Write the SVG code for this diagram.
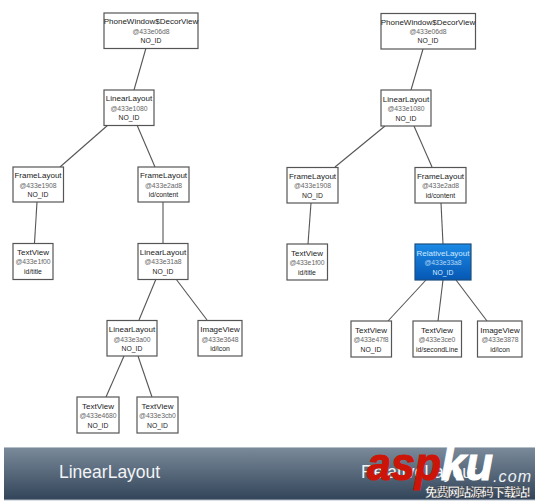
<svg xmlns="http://www.w3.org/2000/svg" width="535" height="504" viewBox="0 0 535 504">
<style>
text{font-family:"Liberation Sans",sans-serif;text-anchor:middle}
.box{fill:#fff;stroke:#555;stroke-width:1.2}
.t{font-size:8px;fill:#222}
.a{font-size:6.800px;fill:#666}
.i{font-size:6.800px;fill:#222}
#conn line{stroke:#555;stroke-width:1.1}
.ban{font-size:17.500px;fill:#f2f4f6;text-anchor:start}
.wm{font-weight:bold;font-style:italic;text-anchor:start}
</style>
<defs>
<linearGradient id="blue" x1="0" y1="0" x2="0" y2="1"><stop offset="0" stop-color="#1b8ae6"/><stop offset="1" stop-color="#0658b4"/></linearGradient>
<linearGradient id="bar" x1="0" y1="0" x2="0" y2="1"><stop offset="0" stop-color="#7b8b9b"/><stop offset="1" stop-color="#324459"/></linearGradient>
</defs>
<rect width="535" height="504" fill="#fff"/>
<g id="conn">
<line x1="146" y1="48" x2="134" y2="90"/><line x1="108" y1="125" x2="60" y2="167"/><line x1="137" y1="125" x2="155" y2="167"/>
<line x1="37" y1="202" x2="34.500" y2="243"/><line x1="163" y1="202" x2="163" y2="244"/><line x1="156" y1="279" x2="139" y2="320"/>
<line x1="176" y1="279" x2="207" y2="320"/><line x1="124" y1="356" x2="106" y2="397"/><line x1="138" y1="356" x2="152" y2="397"/>
<line x1="423" y1="49" x2="411" y2="90"/><line x1="385" y1="126" x2="335" y2="167"/><line x1="414" y1="126" x2="432" y2="167"/>
<line x1="311" y1="203" x2="308" y2="244"/><line x1="441" y1="203" x2="443" y2="244"/><line x1="426" y1="280" x2="388" y2="321"/>
<line x1="443" y1="280" x2="438" y2="321"/><line x1="456" y1="280" x2="487" y2="321"/>
</g>
<g id="l-decor"><rect class="box" x="104" y="13" width="94" height="35.500"/><text class="t" x="151" y="24">PhoneWindow$DecorView</text><text class="a" x="151" y="33.500">@433e06d8</text><text class="i" x="151" y="42.500">NO_ID</text></g>
<g id="l-linear1"><rect class="box" x="104" y="90" width="50" height="35.500"/><text class="t" x="129" y="101">LinearLayout</text><text class="a" x="129" y="110.500">@433e1080</text><text class="i" x="129" y="119.500">NO_ID</text></g>
<g id="l-frame1"><rect class="box" x="13" y="167" width="50.500" height="35"/><text class="t" x="38" y="178">FrameLayout</text><text class="a" x="38" y="187.500">@433e1908</text><text class="i" x="38" y="196.500">NO_ID</text></g>
<g id="l-frame2"><rect class="box" x="138" y="167" width="51" height="35"/><text class="t" x="163.500" y="178">FrameLayout</text><text class="a" x="163.500" y="187.500">@433e2ad8</text><text class="i" x="163.500" y="196.500">id/content</text></g>
<g id="l-title"><rect class="box" x="13" y="243.500" width="40" height="36"/><text class="t" x="33" y="255">TextView</text><text class="a" x="33" y="264">@433e1f00</text><text class="i" x="33" y="273.500">id/title</text></g>
<g id="l-linear2"><rect class="box" x="138" y="243.500" width="50" height="36"/><text class="t" x="163" y="255">LinearLayout</text><text class="a" x="163" y="264">@433e31a8</text><text class="i" x="163" y="273.500">NO_ID</text></g>
<g id="l-linear3"><rect class="box" x="107" y="320.500" width="50" height="35.500"/><text class="t" x="132" y="332">LinearLayout</text><text class="a" x="132" y="341.500">@433e3a00</text><text class="i" x="132" y="350.500">NO_ID</text></g>
<g id="l-image"><rect class="box" x="198" y="320.500" width="44" height="35.500"/><text class="t" x="220" y="332">ImageView</text><text class="a" x="220" y="341.500">@433e3648</text><text class="i" x="220" y="350.500">id/icon</text></g>
<g id="l-text1"><rect class="box" x="77" y="397" width="42" height="36"/><text class="t" x="98" y="409">TextView</text><text class="a" x="98" y="418">@433e4680</text><text class="i" x="98" y="427.500">NO_ID</text></g>
<g id="l-text2"><rect class="box" x="137" y="397" width="41" height="36"/><text class="t" x="157.500" y="409">TextView</text><text class="a" x="157.500" y="418">@433e3cb0</text><text class="i" x="157.500" y="427.500">NO_ID</text></g>
<g id="r-decor"><rect class="box" x="381" y="13.500" width="94.500" height="35.500"/><text class="t" x="428" y="24.500">PhoneWindow$DecorView</text><text class="a" x="428" y="34">@433e06d8</text><text class="i" x="428" y="43">NO_ID</text></g>
<g id="r-linear1"><rect class="box" x="381" y="90" width="50" height="36"/><text class="t" x="406" y="101.500">LinearLayout</text><text class="a" x="406" y="111">@433e1080</text><text class="i" x="406" y="120.500">NO_ID</text></g>
<g id="r-frame1"><rect class="box" x="287" y="167.500" width="51" height="35.500"/><text class="t" x="312.500" y="178.500">FrameLayout</text><text class="a" x="312.500" y="188">@433e1908</text><text class="i" x="312.500" y="197.500">NO_ID</text></g>
<g id="r-frame2"><rect class="box" x="415" y="167.500" width="51" height="35.500"/><text class="t" x="440.500" y="178.500">FrameLayout</text><text class="a" x="440.500" y="188">@433e2ad8</text><text class="i" x="440.500" y="197.500">id/content</text></g>
<g id="r-title"><rect class="box" x="287" y="244" width="40.500" height="36"/><text class="t" x="307" y="255.500">TextView</text><text class="a" x="307" y="265">@433e1f00</text><text class="i" x="307" y="274.500">id/title</text></g>
<g id="r-relative"><rect x="415" y="244" width="56" height="36" fill="url(#blue)" stroke="#1c4f7e" stroke-width="1.200"/><text class="t" x="443" y="255.500" style="fill:#cfe8ff">RelativeLayout</text><text class="a" x="443" y="265" style="fill:#b5d6f5">@433e33a8</text><text class="i" x="443" y="274.500" style="fill:#d8ecff">NO_ID</text></g>
<g id="r-text1"><rect class="box" x="351" y="321" width="40.500" height="36"/><text class="t" x="371" y="332.500">TextView</text><text class="a" x="371" y="342">@433e47f8</text><text class="i" x="371" y="351.500">NO_ID</text></g>
<g id="r-text2"><rect class="box" x="413" y="321" width="48.500" height="36"/><text class="t" x="437" y="332.500">TextView</text><text class="a" x="437" y="342">@433e3ce0</text><text class="i" x="437" y="351.500">id/secondLine</text></g>
<g id="r-image"><rect class="box" x="477.500" y="321" width="44.500" height="36"/><text class="t" x="500" y="332.500">ImageView</text><text class="a" x="500" y="342">@433e3878</text><text class="i" x="500" y="351.500">id/icon</text></g>
<g id="banner">
<rect x="4" y="447" width="531" height="53" fill="url(#bar)"/>
<path d="M4 447.500H535M4 500H535" stroke="#b4bfca" stroke-width="1" fill="none"/>
<text class="ban" x="59" y="478">LinearLayout</text>
<text class="ban" x="361" y="478">RelativeLayout</text>
</g>
<g id="watermark">
<text class="wm" x="367" y="480" font-size="46" fill="#cc1408" stroke="#cc1408" stroke-width="1.200" textLength="74" lengthAdjust="spacingAndGlyphs">asp</text>
<text class="wm" x="441" y="480" font-size="46" fill="#fff" stroke="#fff" stroke-width="1.200" textLength="52" lengthAdjust="spacingAndGlyphs">ku</text>
<text x="493" y="482" font-size="16" fill="#eef1f4" style="font-style:italic;text-anchor:start" textLength="38">.com</text>
<text x="425" y="497" font-size="12.500" font-weight="bold" fill="#fff" stroke="#222" stroke-width="0.300" style="font-family:'Noto Sans CJK SC',sans-serif;text-anchor:start" textLength="106">免费网站源码下载站!</text>
</g>
</svg>
